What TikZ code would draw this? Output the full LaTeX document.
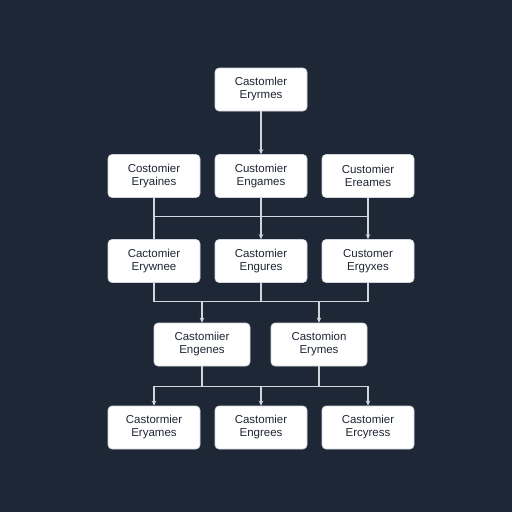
\documentclass[tikz,border=0pt]{standalone}
\usepackage{fontspec}
\setmainfont{Liberation Sans}
\usetikzlibrary{arrows.meta, positioning}
\definecolor{bgnavy}{HTML}{1E2736}
\definecolor{linegray}{HTML}{D2D6DC}
\definecolor{textdark}{HTML}{1F2633}

\begin{document}
\begin{tikzpicture} [x=1pt, y=1pt, node distance = 84pt and 107pt, on grid,
   box/.style = {draw=linegray, fill=white, rounded corners=4pt, line width=0.6pt,
      minimum width=92pt, minimum height=43pt, align=center, text=textdark,
      font=\fontsize{11.5}{13}\selectfont},
   wide/.style = {box, minimum width=96pt},
   link/.style = {draw=linegray, line width=1.3pt},
   arr/.style = {link, -{Stealth[length=5pt, width=4.5pt]}}]
   \fill[bgnavy] (0,0) rectangle (512,-512);
   \useasboundingbox (0,0) rectangle (512,-512);

   \node (top)[box] at (261,-89.5) {Castomler\\Eryrmes};
   \node (r2b)[box, below = 86.5pt of top] {Customier\\Engames};
   \node (r2a)[box, left = of r2b] {Costomier\\Eryaines};
   \node (r2c)[box, right = of r2b] {Customier\\Ereames};

   \node (r3b)[box, below = 85pt of r2b] {Castomier\\Engures};
   \node (r3a)[box, left = of r3b] {Cactomier\\Erywnee};
   \node (r3c)[box, right = of r3b] {Customer\\Ergyxes};

   \node (r4a)[wide, below left = 83.5pt and 59pt of r3b] {Castomiier\\Engenes};
   \node (r4b)[wide, right = 117pt of r4a] {Castomion\\Erymes};

   \node (r5b)[box, below = 166.5pt of r3b] {Castomier\\Engrees};
   \node (r5a)[box, left = of r5b] {Castormier\\Eryames};
   \node (r5c)[box, right = of r5b] {Castomier\\Ercyress};

   \coordinate[below = 19pt of r2b.south] (j1);
   \coordinate[below = 19pt of r3b.south] (j2);
   \coordinate[below = 20pt of r4a.south] (j3);

   % top to second row
   \path[arr] (top) -- (r2b);

   % second row to third row
   \path[link] (r2a) -- (r3a);
   \path[link] (r2a |- j1) -- (r2c |- j1);
   \path[arr] (r2b) -- (r3b);
   \path[arr] (r2c) -- (r3c);

   % third row to fourth row
   \path[link] (r3a.south) -- (r3a |- j2) -- (r3c |- j2) -- (r3c.south);
   \path[link] (r3b.south) -- (j2);
   \path[arr] (r4a |- j2) -- (r4a.north);
   \path[arr] (r4b |- j2) -- (r4b.north);

   % fourth row to last row
   \path[link] (r4a.south) -- (r4a |- j3);
   \path[link] (r4b.south) -- (r4b |- j3);
   \path[link] (r5a |- j3) -- (r5c |- j3);
   \path[arr] (r5a |- j3) -- (r5a.north);
   \path[arr] (r5b |- j3) -- (r5b.north);
   \path[arr] (r5c |- j3) -- (r5c.north);
\end{tikzpicture}
\end{document}
